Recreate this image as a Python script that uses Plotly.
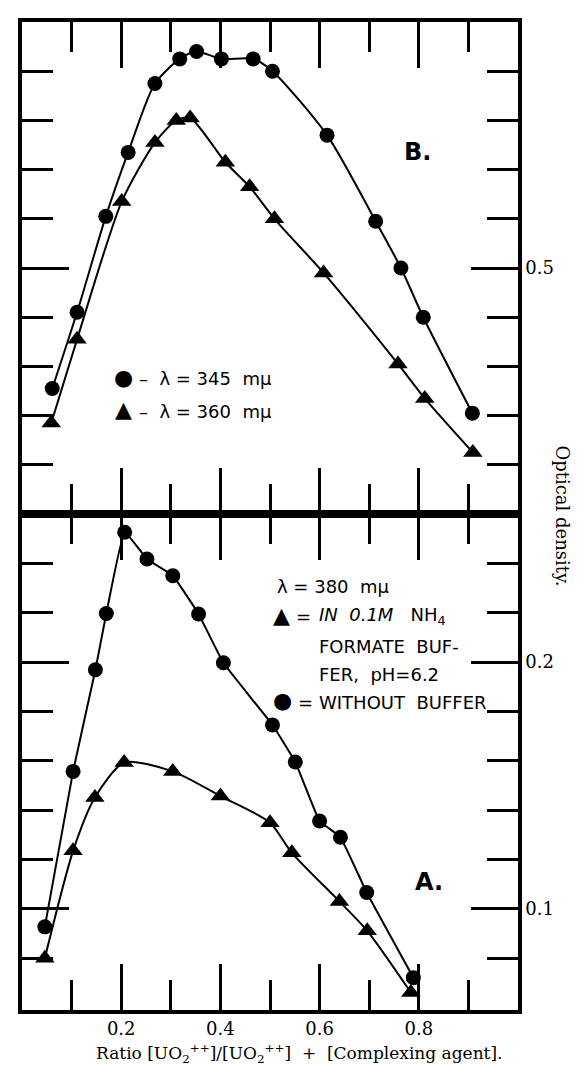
import plotly.graph_objects as go
from plotly.subplots import make_subplots

# ---------------- data ----------------
# Panel B (upper): lambda = 345 m-mu (circles) and 360 m-mu (triangles)
b_x_345 = [0.061, 0.111, 0.169, 0.214, 0.268, 0.318, 0.352, 0.402, 0.466, 0.505, 0.615, 0.713, 0.764, 0.809, 0.908]
b_y_345 = [0.451, 0.482, 0.521, 0.547, 0.575, 0.585, 0.588, 0.585, 0.585, 0.580, 0.554, 0.519, 0.500, 0.480, 0.441]
b_x_360 = [0.059, 0.111, 0.201, 0.268, 0.311, 0.339, 0.410, 0.459, 0.509, 0.608, 0.758, 0.812, 0.909]
b_y_360 = [0.437, 0.471, 0.527, 0.551, 0.560, 0.561, 0.543, 0.533, 0.520, 0.498, 0.461, 0.447, 0.425]

# Panel A (lower): lambda = 380 m-mu, with buffer (triangles) / without buffer (circles)
a_x_nobuf = [0.046, 0.103, 0.148, 0.170, 0.207, 0.252, 0.304, 0.356, 0.406, 0.505, 0.551, 0.600, 0.642, 0.695, 0.789]
a_y_nobuf = [0.0927, 0.1557, 0.1969, 0.2197, 0.2526, 0.2418, 0.2350, 0.2195, 0.1997, 0.1745, 0.1595, 0.1356, 0.1290, 0.1066, 0.0721]
a_x_buf = [0.046, 0.103, 0.147, 0.206, 0.304, 0.400, 0.500, 0.544, 0.640, 0.696, 0.784]
a_y_buf = [0.0800, 0.1235, 0.1451, 0.1593, 0.1557, 0.1457, 0.1349, 0.1227, 0.1030, 0.0911, 0.0661]

x_major = [0.2, 0.4, 0.6, 0.8]
x_minor = [0.1, 0.3, 0.5, 0.7, 0.9]
x_labels = ["0.2", "0.4", "0.6", "0.8"]
b_y_major = [0.5]
b_y_minor = [0.42, 0.44, 0.46, 0.48, 0.52, 0.54, 0.56, 0.58]
a_y_major = [0.1, 0.2]
a_y_minor = [0.08, 0.12, 0.14, 0.16, 0.18, 0.22, 0.24]

# ---------------- figure ----------------
fig = make_subplots(rows=2, cols=1, vertical_spacing=0)

line_style = dict(color="black", width=2, shape="spline", smoothing=0.7)
line_soft = dict(color="black", width=2, shape="spline", smoothing=0.3)
circ = dict(symbol="circle", size=15, color="black")
tri = dict(symbol="triangle-up", size=17, color="black")

fig.add_trace(go.Scatter(x=b_x_345, y=b_y_345, mode="lines+markers", line=line_style, marker=circ,
                         name="λ = 345 mμ"), row=1, col=1)
fig.add_trace(go.Scatter(x=b_x_360, y=b_y_360, mode="lines+markers", line=line_style, marker=tri,
                         name="λ = 360 mμ"), row=1, col=1)
fig.add_trace(go.Scatter(x=a_x_nobuf, y=a_y_nobuf, mode="lines+markers", line=line_soft, marker=circ,
                         name="without buffer"), row=2, col=1)
fig.add_trace(go.Scatter(x=a_x_buf, y=a_y_buf, mode="lines+markers", line=line_style, marker=tri,
                         name="in 0.1M NH4 formate buffer"), row=2, col=1)

serif = dict(family="DejaVu Serif", size=18, color="black")
sans = "DejaVu Sans"

common_x = dict(range=[0, 1.0], showgrid=False, zeroline=False, showline=True, linecolor="black",
                linewidth=3.5, mirror="ticks", ticks="inside", ticklen=46, tickwidth=2.5,
                tickcolor="black", tickmode="array", tickvals=x_major, ticktext=x_labels,
                minor=dict(tickmode="array", tickvals=x_minor, ticks="inside", ticklen=30,
                           tickwidth=2.5, tickcolor="black"),
                tickfont=serif, ticklabelstandoff=0)
fig.update_xaxes(**common_x)
fig.update_xaxes(showticklabels=False, row=1, col=1)
fig.update_xaxes(showticklabels=True, row=2, col=1)

common_y = dict(showgrid=False, zeroline=False, showline=True, linecolor="black", linewidth=3.5,
                mirror="ticks", ticks="inside", ticklen=47, tickwidth=2.5, tickcolor="black",
                side="right", tickfont=serif, tickmode="array", ticklabelstandoff=0)
fig.update_yaxes(**common_y)
fig.update_yaxes(range=[0.4, 0.6], tickvals=b_y_major, ticktext=["0.5"], domain=[0.502, 1.0],
                 minor=dict(tickmode="array", tickvals=b_y_minor, ticks="inside", ticklen=31,
                            tickwidth=2.5, tickcolor="black"), row=1, col=1)
fig.update_yaxes(range=[0.059, 0.26], tickvals=a_y_major, ticktext=["0.1", "0.2"], domain=[0.0, 0.502],
                 minor=dict(tickmode="array", tickvals=a_y_minor, ticks="inside", ticklen=31,
                            tickwidth=2.5, tickcolor="black"), row=2, col=1)

txt = dict(family=sans, size=18, color="black")
sym = dict(family=sans, size=22, color="black")


def note(x, y, text, xref, yref, font, anchor="left"):
    return dict(x=x, y=y, xref=xref, yref=yref, text=text, showarrow=False, xanchor=anchor,
                yanchor="middle", font=font)


ann = [
    # panel letters
    note(0.797, 0.547, "<b>B.</b>", "x", "y", dict(family=sans, size=24, color="black"), "center"),
    note(0.821, 0.1107, "<b>A.</b>", "x2", "y2", dict(family=sans, size=24, color="black"), "center"),
    # legend B
    note(0.204, 0.4555, "●", "x", "y", sym, "center"),
    note(0.232, 0.4550, "–  λ = 345  mμ", "x", "y", txt),
    note(0.204, 0.4423, "▲", "x", "y", sym, "center"),
    note(0.232, 0.4418, "–  λ = 360  mμ", "x", "y", txt),
    # legend A
    note(0.511, 0.2305, "λ = 380  mμ", "x2", "y2", txt),
    note(0.523, 0.2190, "▲", "x2", "y2", sym, "center"),
    note(0.548, 0.2185, "=", "x2", "y2", txt),
    note(0.594, 0.2185, "<i>IN  0.1M</i>   NH<sub>4</sub>", "x2", "y2", txt),
    note(0.594, 0.2062, "FORMATE  BUF-", "x2", "y2", txt),
    note(0.594, 0.1948, "FER,  pH=6.2", "x2", "y2", txt),
    note(0.525, 0.1843, "●", "x2", "y2", sym, "center"),
    note(0.552, 0.1838, "=", "x2", "y2", txt),
    note(0.594, 0.1838, "WITHOUT  BUFFER", "x2", "y2", txt),
]
# axis titles
ann.append(dict(x=0.559, y=-0.059, xref="paper", yref="paper", yanchor="bottom", showarrow=False,
                text="Ratio [UO<sub>2</sub><sup>++</sup>]/[UO<sub>2</sub><sup>++</sup>]  +  [Complexing agent].",
                font=dict(family="DejaVu Serif", size=17, color="black")))
ann.append(dict(x=1.115, y=0.5, xref="paper", yref="paper", textangle=90, showarrow=False,
                text="Optical density.", font=serif))

fig.update_layout(width=586, height=1066, margin=dict(l=13, r=76, t=10, b=64),
                  paper_bgcolor="white", plot_bgcolor="white", showlegend=False, annotations=ann)

fig.write_html("out.html")
